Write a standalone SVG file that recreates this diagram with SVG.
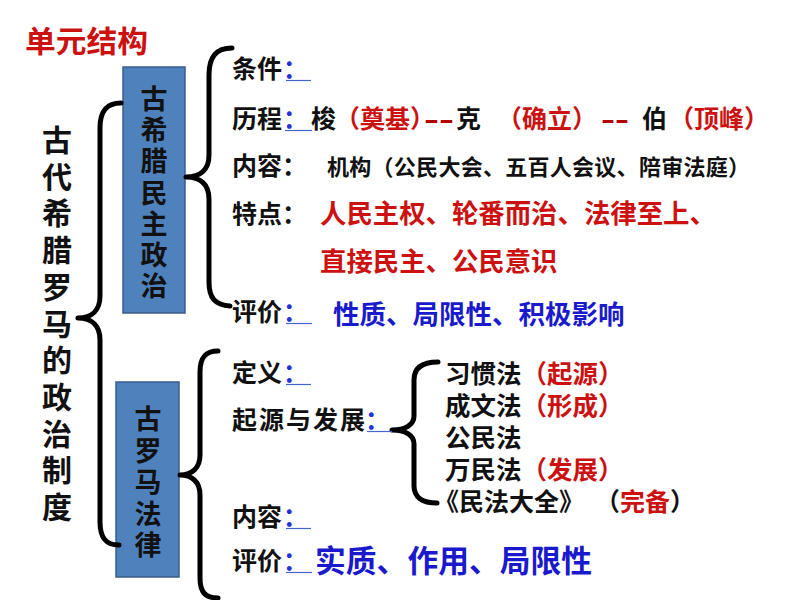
<svg xmlns="http://www.w3.org/2000/svg" width="800" height="600" viewBox="0 0 800 600">
<style>
text{font-family:"Liberation Sans","Noto Sans CJK SC",sans-serif;font-weight:bold;}
.k{fill:#111;font-size:25px;}
.r{fill:#cc1111;}
.dr{fill:#b00000;}
.b{fill:#1a1acc;}
.c{fill:#2233dd;font-size:25px;}
.u{stroke:#4466cc;stroke-width:1.2;}
.box{fill:#4f81bd;stroke:#385d8a;stroke-width:1.5;}
.br{fill:none;stroke:#000;stroke-width:5;stroke-linecap:round;stroke-linejoin:round;}
.vt{fill:#111;text-anchor:middle;}
</style>
<rect width="800" height="600" fill="#fff"/>

<g id="title"><text x="25" y="52" font-size="30" class="r" textLength="123" lengthAdjust="spacingAndGlyphs">单元结构</text></g>

<g id="root">
<text class="vt" font-size="30" x="57" y="151">古<tspan x="57" dy="36.7">代</tspan><tspan x="57" dy="36.7">希</tspan><tspan x="57" dy="36.7">腊</tspan><tspan x="57" dy="36.7">罗</tspan><tspan x="57" dy="36.7">马</tspan><tspan x="57" dy="36.7">的</tspan><tspan x="57" dy="36.7">政</tspan><tspan x="57" dy="36.7">治</tspan><tspan x="57" dy="36.7">制</tspan><tspan x="57" dy="36.7">度</tspan></text>
</g>

<g id="greek">
<rect class="box" x="123" y="67" width="62" height="246"/>
<text class="vt" font-size="27" x="154" y="109">古<tspan x="154" dy="31.2">希</tspan><tspan x="154" dy="31.2">腊</tspan><tspan x="154" dy="31.2">民</tspan><tspan x="154" dy="31.2">主</tspan><tspan x="154" dy="31.2">政</tspan><tspan x="154" dy="31.2">治</tspan></text>
</g>

<g id="roman">
<rect class="box" x="116" y="382" width="63" height="195"/>
<text class="vt" font-size="27" x="148" y="429">古<tspan x="148" dy="31.5">罗</tspan><tspan x="148" dy="31.5">马</tspan><tspan x="148" dy="31.5">法</tspan><tspan x="148" dy="31.5">律</tspan></text>
</g>

<g id="connectors">
<path class="br" d="M121,103 C106,103 100,112 100,128 L100,296 C100,310 92,318 78,318 C92,318 100,326 100,340 L100,522 C100,538 106,545 119,545"/>
<path class="br" d="M232,48 C215,48 209,58 209,75 L209,155 C209,170 200,177 186,177 C200,177 209,184 209,199 L209,282 C209,298 215,305 230,306"/>
<path class="br" d="M218,351 C205,351 200,358 200,372 L200,455 C200,468 192,475 180,475 C192,475 200,482 200,495 L200,578 C200,592 205,598 218,598"/>
<path class="br" stroke-width="4" d="M438,362 C422,362 414,368 414,380 L414,416 C414,425 405,430 392,430 C405,430 414,435 414,444 L414,486 C414,497 422,503 437,503"/>
</g>

<g id="g-cond">
<text class="k" x="232" y="78">条件</text><text class="c" x="283" y="78">：</text>
<line class="u" x1="286" y1="80.5" x2="311" y2="80.5"/>
</g>

<g id="g-hist">
<text class="k" x="232" y="128">历程</text><text class="c" x="283" y="128">：</text>
<line class="u" x1="285" y1="130.5" x2="312" y2="130.5"/>
<text class="k" x="311" y="128">梭</text>
<text class="r" font-size="25" x="335" y="128">（奠基）</text>
<text class="dr" font-size="25" x="424" y="128" textLength="30" lengthAdjust="spacingAndGlyphs">--</text>
<text class="k" x="456" y="128">克</text>
<text class="r" font-size="25" x="497" y="128">（确立）</text>
<text class="dr" font-size="25" x="601" y="128" textLength="28" lengthAdjust="spacingAndGlyphs">--</text>
<text class="k" x="642" y="128">伯</text>
<text class="r" font-size="25" x="669" y="128">（顶峰）</text>
</g>

<g id="g-content">
<text class="k" x="232" y="175">内容：</text>
<text class="k" x="327" y="175" style="font-size:22px" textLength="423" lengthAdjust="spacing">机构（公民大会、五百人会议、陪审法庭）</text>
</g>

<g id="g-feat">
<text class="k" x="232" y="223">特点：</text>
<text class="r" font-size="26.4" x="320" y="223">人民主权、轮番而治、法律至上、</text>
<text class="r" font-size="26.4" x="320" y="271">直接民主、公民意识</text>
</g>

<g id="g-eval">
<text class="k" x="232" y="321">评价</text><text class="c" x="283" y="321">：</text>
<line class="u" x1="286" y1="323.5" x2="312" y2="323.5"/>
<text class="b" font-size="26.5" x="333" y="324">性质、局限性、积极影响</text>
</g>

<g id="r-def">
<text class="k" x="232" y="382">定义</text><text class="c" x="283" y="382">：</text>
<line class="u" x1="286" y1="384.5" x2="311" y2="384.5"/>
</g>

<g id="r-origin">
<text class="k" x="232" y="429" textLength="133" lengthAdjust="spacing">起源与发展</text><text class="c" x="365" y="429">：</text>
<line class="u" x1="367" y1="431.5" x2="392" y2="431.5"/>
</g>

<g id="r-sub">
<text class="k" x="445" y="383" style="font-size:25.5px">习惯法<tspan class="r">（起源）</tspan></text>
<text class="k" x="445" y="415" style="font-size:25.5px">成文法<tspan class="r">（形成）</tspan></text>
<text class="k" x="445" y="447" style="font-size:25.5px">公民法</text>
<text class="k" x="445" y="479" style="font-size:25.5px">万民法<tspan class="r">（发展）</tspan></text>
<text class="k" x="434" y="511" textLength="150" lengthAdjust="spacing">《民法大全》</text>
<text class="k" x="595" y="511">（<tspan class="r">完备</tspan>）</text>
</g>

<g id="r-content">
<text class="k" x="232" y="526">内容</text><text class="c" x="283" y="526">：</text>
<line class="u" x1="286" y1="528.5" x2="311" y2="528.5"/>
</g>

<g id="r-eval">
<text class="k" x="232" y="570">评价</text><text class="c" x="283" y="570">：</text>
<line class="u" x1="286" y1="572.5" x2="312" y2="572.5"/>
<text class="b" font-size="30.8" x="315" y="572">实质、作用、局限性</text>
</g>
</svg>
